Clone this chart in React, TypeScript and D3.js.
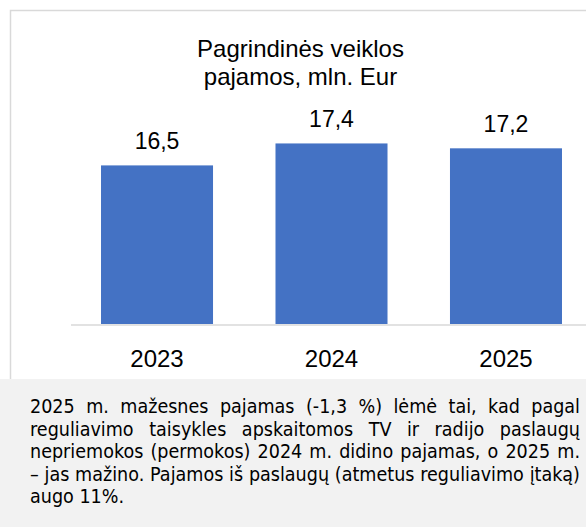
import React, { useEffect, useRef } from "react";
import * as d3 from "d3";

const categories: string[] = ["2023", "2024", "2025"];
const values: number[] = [16.5, 17.4, 17.2];
const valueLabels: string[] = ["16,5", "17,4", "17,2"];
const titleLines: string[] = ["Pagrindinės veiklos", "pajamos, mln. Eur"];
const noteLines: string[] = [
  "2025 m. mažesnes pajamas (-1,3 %) lėmė tai, kad pagal",
  "reguliavimo taisykles apskaitomos TV ir radijo paslaugų",
  "nepriemokos (permokos) 2024 m. didino pajamas, o 2025 m.",
  "– jas mažino. Pajamos iš paslaugų (atmetus reguliavimo įtaką)",
  "augo 11%.",
];

const W = 586;
const H = 527;
const FONT = "'Liberation Sans', Arial, sans-serif";
const NOTE_FONT = "'DejaVu Sans', Verdana, sans-serif";

export default function App() {
  const ref = useRef<SVGSVGElement | null>(null);

  useEffect(() => {
    const svg = d3.select(ref.current);
    svg.selectAll("*").remove();

    svg.append("rect").attr("x", 0).attr("y", 0).attr("width", W).attr("height", H).attr("fill", "#fff");
    svg
      .append("rect")
      .attr("x", 10.5)
      .attr("y", 10.5)
      .attr("width", 640)
      .attr("height", 380)
      .attr("fill", "#fff")
      .attr("stroke", "#d9d9d9")
      .attr("stroke-width", 1.5);

    const x = d3.scaleBand<string>().domain(categories).range([71, 592]).paddingInner(0.358).paddingOuter(0.172);
    const y = d3.scaleLinear().domain([10, 18]).range([324, 324 - 8 * 24.4]);

    const title = svg
      .append("text")
      .attr("text-anchor", "middle")
      .attr("font-family", FONT)
      .attr("font-size", 24)
      .attr("fill", "#000");
    titleLines.forEach((t, i) => {
      title.append("tspan").attr("x", 300.5).attr("y", 57 + i * 28).text(t);
    });

    svg
      .append("g")
      .selectAll("rect")
      .data(values)
      .join("rect")
      .attr("x", (_, i) => x(categories[i])!)
      .attr("width", x.bandwidth())
      .attr("y", (d) => y(d))
      .attr("height", (d) => y(10) - y(d))
      .attr("fill", "#4472c4");

    svg
      .append("line")
      .attr("x1", 71)
      .attr("x2", W)
      .attr("y1", 325)
      .attr("y2", 325)
      .attr("stroke", "#d9d9d9")
      .attr("stroke-width", 1.5);

    svg
      .append("g")
      .selectAll("text")
      .data(values)
      .join("text")
      .attr("x", (_, i) => x(categories[i])! + x.bandwidth() / 2)
      .attr("y", (d) => y(d) - 16)
      .attr("text-anchor", "middle")
      .attr("font-family", FONT)
      .attr("font-size", 23)
      .attr("fill", "#000")
      .text((_, i) => valueLabels[i]);

    svg
      .append("g")
      .selectAll("text")
      .data(categories)
      .join("text")
      .attr("x", (d) => x(d)! + x.bandwidth() / 2)
      .attr("y", 367)
      .attr("text-anchor", "middle")
      .attr("font-family", FONT)
      .attr("font-size", 24)
      .attr("fill", "#000")
      .text((d) => d);

    svg.append("rect").attr("x", 0).attr("y", 379).attr("width", W).attr("height", H - 379).attr("fill", "#f2f2f2");

    const left = 30;
    const right = 580;
    const avail = right - left;
    const noteG = svg.append("g").attr("font-family", NOTE_FONT).attr("fill", "#000");

    const measure = (s: string, size: number) => {
      const t = noteG.append("text").attr("font-size", size).attr("xml:space", "preserve").text(s);
      const w = (t.node() as SVGTextElement).getComputedTextLength();
      t.remove();
      return w;
    };
    const base = 16;
    let maxW = 0;
    noteLines.slice(0, 4).forEach((l) => {
      maxW = Math.max(maxW, measure(l, base));
    });
    const size = base * (avail - 1) / maxW;
    const spaceW = measure("a a", size) - measure("aa", size);

    noteLines.forEach((line, li) => {
      const words = line.split(" ");
      const yy = 413 + li * 22.5;
      const widths = words.map((w) => measure(w, size));
      const total = widths.reduce((a, b) => a + b, 0);
      const last = li === noteLines.length - 1;
      const gap = last || words.length < 2 ? spaceW : (avail - total) / (words.length - 1);
      let cx = left;
      words.forEach((w, wi) => {
        noteG
          .append("text")
          .attr("transform", `translate(${cx},${yy}) scale(1,1.12)`)
          .attr("font-size", size)
          .text(w);
        cx += widths[wi] + gap;
      });
    });
  }, []);

  return (
    <svg
      ref={ref}
      width={W}
      height={H}
      style={{ position: "absolute", left: 0, top: 0, display: "block" }}
    />
  );
}
